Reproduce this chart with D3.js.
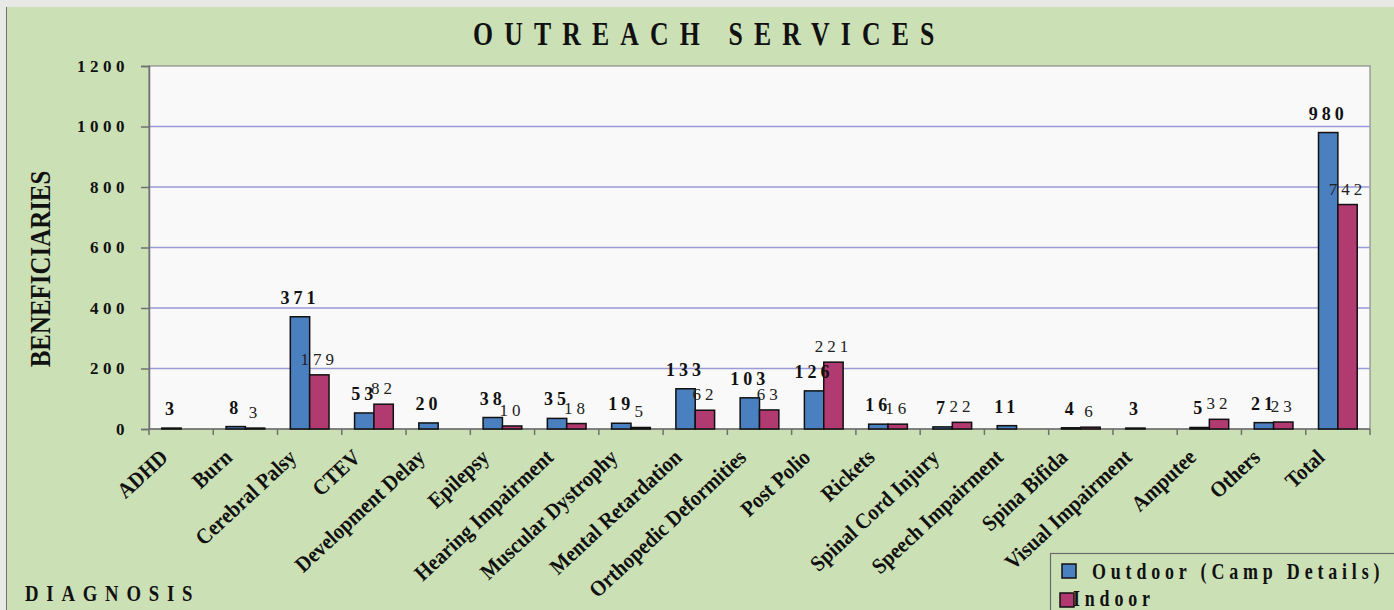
<!DOCTYPE html>
<html lang="en">
<head>
<meta charset="UTF-8">
<title>Outreach Services</title>
<script src="https://cdn.jsdelivr.net/npm/d3@7"></script>
<style>
  body { margin: 0; background: #e8e8e6; }
  svg text { font-family: "Liberation Serif", "Times New Roman", serif !important; }
</style>
</head>
<body>
<svg id="chart" width="1394" height="610"></svg>
<script>
// data
var categories = ["ADHD", "Burn", "Cerebral Palsy", "CTEV", "Development Delay", "Epilepsy",
  "Hearing Impairment", "Muscular Dystrophy", "Mental Retardation", "Orthopedic Deformities",
  "Post Polio", "Rickets", "Spinal Cord Injury", "Speech Impairment", "Spina Bifida",
  "Visual Impairment", "Amputee", "Others", "Total"];
var outdoor = [3, 8, 371, 53, 20, 38, 35, 19, 133, 103, 126, 16, 7, 11, 4, 3, 5, 21, 980];
var indoor = [null, 3, 179, 82, null, 10, 18, 5, 62, 63, 221, 16, 22, null, 6, null, 32, 23, 742];
var seriesNames = ["Outdoor (Camp Details)", "Indoor"];
var yTicks = [0, 200, 400, 600, 800, 1000, 1200];

var colors = {out: "#4a7fc0", in: "#b13a70"};

var svg = d3.select("#chart");

// backdrop
svg.append("rect").attr("x", 0).attr("y", 0).attr("width", 1394).attr("height", 610).attr("fill", "#e8e8e6");
svg.append("rect").attr("x", 7).attr("y", 7).attr("width", 1387).attr("height", 603).attr("fill", "#cbe0b5");
svg.append("line").attr("x1", 6.5).attr("x2", 6.5).attr("y1", 7).attr("y2", 610).attr("stroke", "#707070").attr("stroke-width", 1);

var L = 149, R = 1370, T = 66, B = 429;

var x = d3.scaleBand().domain(categories).range([L, R]).paddingInner(0).paddingOuter(0);
var x1 = d3.scaleBand().domain(["out", "in"]).range([0, x.bandwidth()]).paddingInner(0).paddingOuter(0.66);
var y = d3.scaleLinear().domain([0, 1200]).range([B, T]);

// text squeezed sideways, like the stretched picture
function squeeze(px, py, rot, sx) {
  return "translate(" + px + "," + py + ") rotate(" + rot + ") scale(" + sx + ",1)";
}

// plot area
svg.append("rect").attr("x", L).attr("y", T).attr("width", R - L).attr("height", B - T)
  .attr("fill", "#f9f9f9").attr("stroke", "#8a8a8a").attr("stroke-width", 1.2);

// gridlines
svg.append("g").selectAll("line").data(yTicks.filter(d => d > 0 && d < 1200)).join("line")
  .attr("x1", L).attr("x2", R).attr("y1", d => y(d)).attr("y2", d => y(d))
  .attr("stroke", "#9a9ad8").attr("stroke-width", 1.3);

// y axis
var yAxis = svg.append("g").attr("transform", "translate(" + L + ",0)")
  .call(d3.axisLeft(y).tickValues(yTicks).tickSize(8).tickPadding(12).tickFormat(d3.format("d")));
yAxis.select(".domain").attr("stroke", "#707070").attr("stroke-width", 1.5);
yAxis.selectAll(".tick line").attr("stroke", "#707070").attr("stroke-width", 1.5);
yAxis.selectAll("text").attr("font-size", 17).attr("font-weight", "bold").attr("fill", "#111")
  .attr("letter-spacing", "4.5px");

// x axis ticks at category boundaries
var bounds = categories.map(c => x(c)).concat([R]);
svg.append("line").attr("x1", L).attr("x2", R).attr("y1", B).attr("y2", B)
  .attr("stroke", "#707070").attr("stroke-width", 1.5);
svg.append("g").selectAll("line").data(bounds).join("line")
  .attr("x1", d => d).attr("x2", d => d).attr("y1", B).attr("y2", B + 6)
  .attr("stroke", "#707070").attr("stroke-width", 1.5);

// bars
var groups = svg.append("g").selectAll("g").data(categories).join("g")
  .attr("transform", d => "translate(" + x(d) + ",0)");

groups.append("rect")
  .attr("x", x1("out")).attr("width", x1.bandwidth())
  .attr("y", (d, i) => y(outdoor[i])).attr("height", (d, i) => B - y(outdoor[i]))
  .attr("fill", colors.out).attr("stroke", "#111").attr("stroke-width", 1.5);

groups.filter((d, i) => indoor[i] != null).append("rect")
  .attr("x", x1("in")).attr("width", x1.bandwidth())
  .attr("y", d => y(indoor[categories.indexOf(d)]))
  .attr("height", d => B - y(indoor[categories.indexOf(d)]))
  .attr("fill", colors.in).attr("stroke", "#111").attr("stroke-width", 1.5);

// value labels
groups.append("text")
  .attr("x", x1("out") + x1.bandwidth() / 2)
  .attr("y", (d, i) => y(outdoor[i]) - 13)
  .attr("text-anchor", "middle").attr("font-size", 18).attr("font-weight", "bold")
  .attr("letter-spacing", "4px").attr("fill", "#111")
  .text((d, i) => outdoor[i]);

groups.filter((d, i) => indoor[i] != null).append("text")
  .attr("x", x1("in") + x1.bandwidth() / 2)
  .attr("y", d => y(indoor[categories.indexOf(d)]) - 10)
  .attr("text-anchor", "middle").attr("font-size", 17)
  .attr("letter-spacing", "4px").attr("fill", "#222")
  .text(d => indoor[categories.indexOf(d)]);

// category labels
svg.append("g").selectAll("text").data(categories).join("text")
  .attr("transform", d => squeeze(x(d) + x.bandwidth() / 2 - 12, B + 30, -43, 0.92))
  .attr("text-anchor", "end")
  .attr("font-size", 22).attr("font-weight", "bold").attr("fill", "#111")
  .text(d => d);

// title
svg.append("text").attr("transform", squeeze(473, 45, 0, 0.78))
  .attr("font-size", 33).attr("font-weight", "bold").attr("letter-spacing", "14.3px").attr("fill", "#111")
  .text("OUTREACH SERVICES");

// y title
svg.append("text").attr("transform", squeeze(50, 269, -90, 0.86)).attr("text-anchor", "middle")
  .attr("font-size", 29).attr("font-weight", "bold").attr("fill", "#111")
  .text("BENEFICIARIES");

// x title
svg.append("text").attr("transform", squeeze(25, 601, 0, 0.78))
  .attr("font-size", 24).attr("font-weight", "bold").attr("letter-spacing", "10px").attr("fill", "#111")
  .text("DIAGNOSIS");

// legend
var lg = svg.append("g");
lg.append("rect").attr("x", 1050.5).attr("y", 553.5).attr("width", 360).attr("height", 70)
  .attr("fill", "#cbe0b5").attr("stroke", "#6a6a6a").attr("stroke-width", 1.2);
var legendItems = [
  {name: seriesNames[0], color: colors.out, sx: 1062, tx: 1092, y: 571, base: 579},
  {name: seriesNames[1], color: colors.in, sx: 1060, tx: 1073, y: 600, base: 606}
];
legendItems.forEach(function (it) {
  lg.append("rect").attr("x", it.sx).attr("y", it.y - 7).attr("width", 14).attr("height", 14)
    .attr("fill", it.color).attr("stroke", "#111").attr("stroke-width", 1.5);
  lg.append("text").attr("transform", squeeze(it.tx, it.base, 0, 0.78))
    .attr("font-size", 23).attr("font-weight", "bold").attr("letter-spacing", "6.2px").attr("fill", "#111")
    .text(it.name);
});
</script>
</body>
</html>
